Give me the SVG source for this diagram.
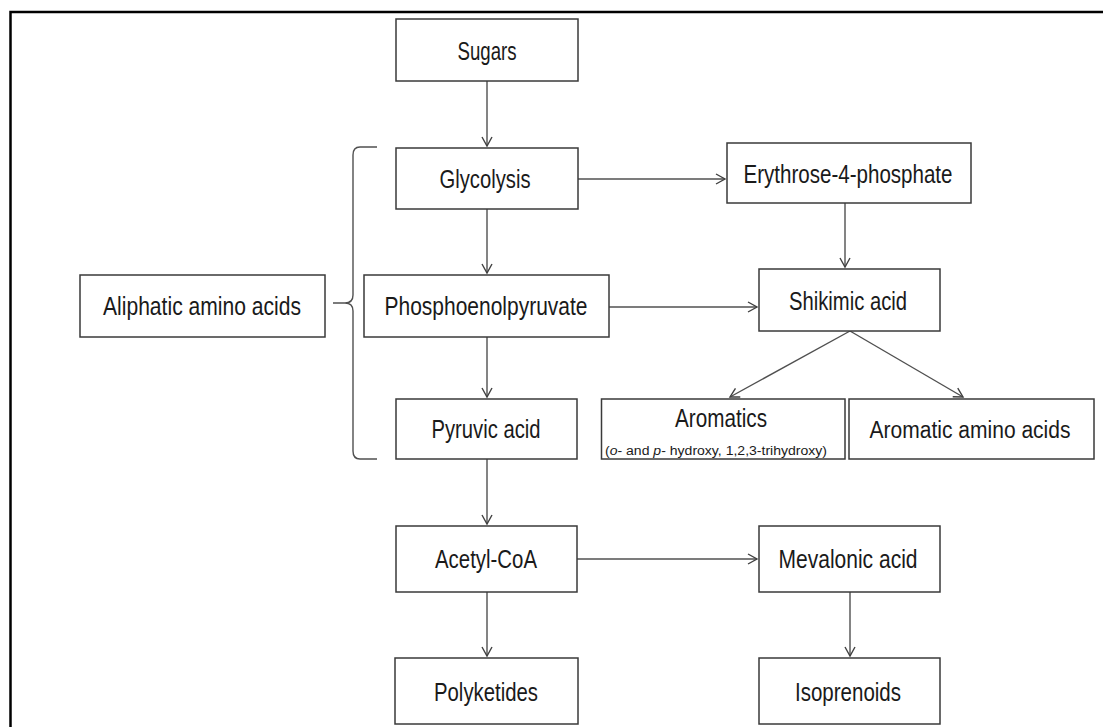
<svg xmlns="http://www.w3.org/2000/svg" width="1103" height="727" viewBox="0 0 1103 727">
<style>
.box{fill:#fff;stroke:#3a3a3a;stroke-width:1.5}
.t{font-family:"Liberation Sans",Arial,sans-serif;font-size:25px;fill:#1a1a1a;text-anchor:middle}
.s{font-family:"Liberation Sans",Arial,sans-serif;font-size:12px;fill:#1a1a1a;text-anchor:middle}
.c{stroke:#505050;stroke-width:1.4;fill:none}
</style>
<defs>
<marker id="arr" markerUnits="userSpaceOnUse" markerWidth="14" markerHeight="14" viewBox="-11 -7 13 14" refX="0" refY="0" orient="auto">
<path d="M-9,-5 L0,0 L-9,5" fill="none" stroke="#404040" stroke-width="1.4"/>
</marker>
</defs>
<rect width="1103" height="727" fill="#fff"/>
<path d="M10.5,727 V12 H1103" fill="none" stroke="#000" stroke-width="2.5"/>

<g id="connectors">
<line class="c" x1="487" y1="81" x2="487" y2="146" marker-end="url(#arr)"/>
<line class="c" x1="578" y1="179" x2="725" y2="179" marker-end="url(#arr)"/>
<line class="c" x1="487" y1="209" x2="487" y2="273" marker-end="url(#arr)"/>
<line class="c" x1="845" y1="203" x2="845" y2="267" marker-end="url(#arr)"/>
<line class="c" x1="609" y1="307" x2="757" y2="307" marker-end="url(#arr)"/>
<line class="c" x1="487" y1="337" x2="487" y2="397" marker-end="url(#arr)"/>
<line class="c" x1="850" y1="331" x2="730" y2="397" marker-end="url(#arr)"/>
<line class="c" x1="850" y1="331" x2="963" y2="397" marker-end="url(#arr)"/>
<line class="c" x1="487" y1="459" x2="487" y2="524" marker-end="url(#arr)"/>
<line class="c" x1="577" y1="559" x2="757" y2="559" marker-end="url(#arr)"/>
<line class="c" x1="487" y1="592" x2="487" y2="656" marker-end="url(#arr)"/>
<line class="c" x1="850" y1="592" x2="850" y2="656" marker-end="url(#arr)"/>
<path class="c" d="M377,147 H360 Q353,147 353,155 V295 Q353,303 345,303 H333 M345,303 Q353,303 353,311 V451 Q353,459 360,459 H377"/>
</g>

<g id="sugars"><rect class="box" x="396" y="19" width="182" height="62"/><text class="t" x="487" y="60" textLength="59" lengthAdjust="spacingAndGlyphs">Sugars</text></g>
<g id="glycolysis"><rect class="box" x="396" y="148" width="182" height="61"/><text class="t" x="485" y="188" textLength="91" lengthAdjust="spacingAndGlyphs">Glycolysis</text></g>
<g id="erythrose"><rect class="box" x="727" y="143" width="244" height="60"/><text class="t" x="848" y="183" textLength="209" lengthAdjust="spacingAndGlyphs">Erythrose-4-phosphate</text></g>
<g id="aliphatic"><rect class="box" x="80" y="275" width="245" height="62"/><text class="t" x="202" y="315" textLength="198" lengthAdjust="spacingAndGlyphs">Aliphatic amino acids</text></g>
<g id="pep"><rect class="box" x="364" y="275" width="245" height="62"/><text class="t" x="486" y="315" textLength="203" lengthAdjust="spacingAndGlyphs">Phosphoenolpyruvate</text></g>
<g id="shikimic"><rect class="box" x="759" y="269" width="181" height="62"/><text class="t" x="848" y="310" textLength="118" lengthAdjust="spacingAndGlyphs">Shikimic acid</text></g>
<g id="pyruvic"><rect class="box" x="396" y="399" width="181" height="60"/><text class="t" x="486" y="438" textLength="109" lengthAdjust="spacingAndGlyphs">Pyruvic acid</text></g>
<g id="aromatics"><rect class="box" x="601.5" y="399" width="243.5" height="60"/><text class="t" x="721" y="427" textLength="92" lengthAdjust="spacingAndGlyphs">Aromatics</text><text class="s" x="716" y="455" textLength="222" lengthAdjust="spacingAndGlyphs">(<tspan font-style="italic">o</tspan>- and <tspan font-style="italic">p</tspan>- hydroxy, 1,2,3-trihydroxy)</text></g>
<g id="aromaticaa"><rect class="box" x="849" y="399" width="245" height="60"/><text class="t" x="970" y="438" font-size="23" style="font-size:23px" textLength="201" lengthAdjust="spacingAndGlyphs">Aromatic amino acids</text></g>
<g id="acetylcoa"><rect class="box" x="396" y="526" width="181" height="66"/><text class="t" x="486" y="568" textLength="102" lengthAdjust="spacingAndGlyphs">Acetyl-CoA</text></g>
<g id="mevalonic"><rect class="box" x="759" y="526" width="181" height="66"/><text class="t" x="848" y="568" textLength="139" lengthAdjust="spacingAndGlyphs">Mevalonic acid</text></g>
<g id="polyketides"><rect class="box" x="395" y="658" width="183" height="66"/><text class="t" x="486" y="701" textLength="104" lengthAdjust="spacingAndGlyphs">Polyketides</text></g>
<g id="isoprenoids"><rect class="box" x="759" y="658" width="181" height="66"/><text class="t" x="848" y="701" textLength="106" lengthAdjust="spacingAndGlyphs">Isoprenoids</text></g>
</svg>
